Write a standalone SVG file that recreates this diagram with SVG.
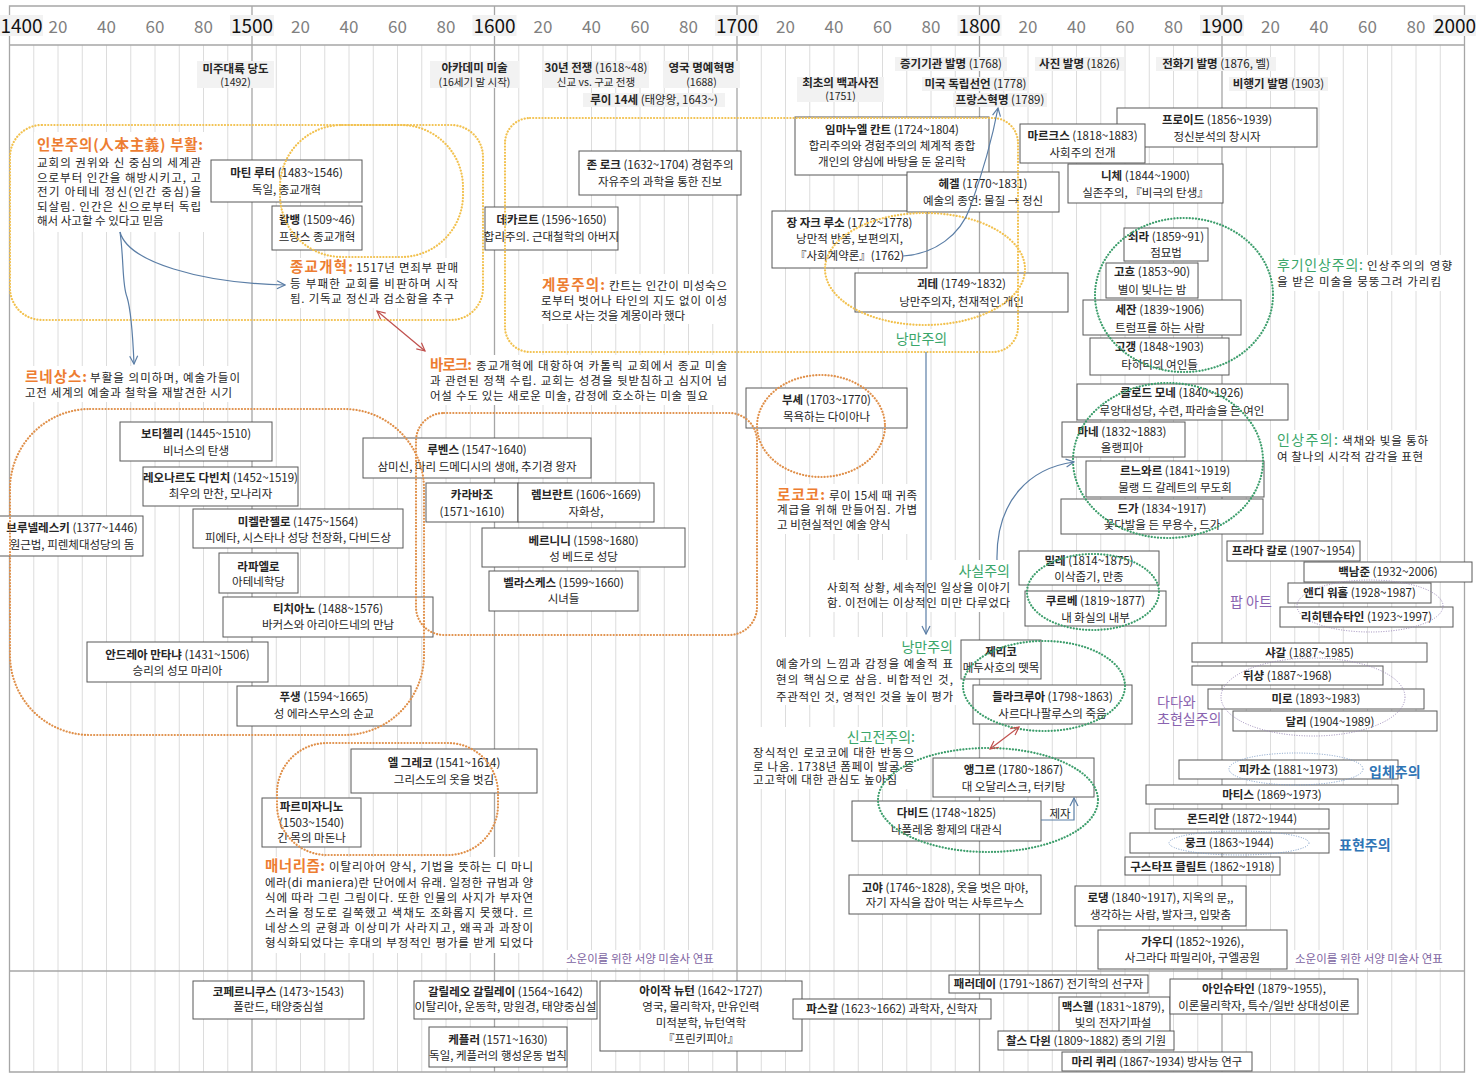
<svg xmlns="http://www.w3.org/2000/svg" width="1476" height="1080" viewBox="0 0 1476 1080">
<style>
text{font-family:'Noto Sans CJK KR','Noto Sans',sans-serif;fill:#262626;font-size:11.5px}
.b{font-weight:bold}
.s{font-size:10.5px}
.box rect{fill:#fff;stroke:#595959;stroke-width:1}
.box text{text-anchor:middle}
.ev text{text-anchor:middle}
.hbg{fill:#f2f2f2}
.wbg{fill:#fff}
.grid{stroke:#dcdcdc;stroke-width:1;fill:none}
.cent{stroke:#a6a6a6;stroke-width:1.3;fill:none}
.frame{stroke:#a6a6a6;stroke-width:1.3;fill:none}
.cy{font-size:19px;fill:#111;text-anchor:middle}
.dc{font-size:17px;fill:#808080;text-anchor:middle}
.yel{fill:none;stroke:#f2c14e;stroke-width:2.2;stroke-dasharray:0.1 3;stroke-linecap:round}
.org{fill:none;stroke:#e0904a;stroke-width:2.2;stroke-dasharray:0.1 3;stroke-linecap:round}
.grn{fill:none;stroke:#3d9e6c;stroke-width:2.2;stroke-dasharray:0.1 3;stroke-linecap:round}
.pur{fill:none;stroke:#9a88b8;stroke-width:1;stroke-dasharray:1 1.5}
.blu{fill:none;stroke:#7b9cc8;stroke-width:1;stroke-dasharray:1 1.5}
.or{fill:#ed7d31;font-size:14.5px;font-weight:bold}
.gr{fill:#3aa66a;font-size:14px}
.pp{fill:#8a63b0;font-size:14px}
.bl{fill:#2e75b6;font-size:14px;font-weight:bold}
.sig{fill:#8064a2;font-size:11.5px}
.cb{fill:none;stroke:#5b7ea6;stroke-width:1.2}
.cr{fill:none;stroke:#c0504d;stroke-width:1.2}
</style>
<defs>
<marker id="ab" viewBox="0 0 10 10" refX="9" refY="5" markerWidth="10" markerHeight="10" markerUnits="userSpaceOnUse" orient="auto-start-reverse"><path d="M1,1 L9,5 L1,9" fill="none" stroke="#5b7ea6" stroke-width="1.2"/></marker>
<marker id="ar" viewBox="0 0 10 10" refX="9" refY="5" markerWidth="10" markerHeight="10" markerUnits="userSpaceOnUse" orient="auto-start-reverse"><path d="M1,1 L9,5 L1,9" fill="none" stroke="#c0504d" stroke-width="1.2"/></marker>
</defs>
<rect x="0" y="0" width="1476" height="1080" fill="#fff"/>

<g id="grid">
<path class="grid" d="M33.75,45V1072M58,45V1072M82.25,45V1072M106.5,45V1072M130.75,45V1072M155,45V1072M179.25,45V1072M203.5,45V1072M227.75,45V1072M276.25,45V1072M300.5,45V1072M324.75,45V1072M349,45V1072M373.25,45V1072M397.5,45V1072M421.75,45V1072M446,45V1072M470.25,45V1072M518.75,45V1072M543,45V1072M567.25,45V1072M591.5,45V1072M615.75,45V1072M640,45V1072M664.25,45V1072M688.5,45V1072M712.75,45V1072M761.25,45V1072M785.5,45V1072M809.75,45V1072M834,45V1072M858.25,45V1072M882.5,45V1072M906.75,45V1072M931,45V1072M955.25,45V1072M1003.75,45V1072M1028,45V1072M1052.25,45V1072M1076.5,45V1072M1100.75,45V1072M1125,45V1072M1149.25,45V1072M1173.5,45V1072M1197.75,45V1072M1246.25,45V1072M1270.5,45V1072M1294.75,45V1072M1319,45V1072M1343.25,45V1072M1367.5,45V1072M1391.75,45V1072M1416,45V1072M1440.25,45V1072"/>
<path class="cent" d="M252,6V1072M494.5,6V1072M737,6V1072M979.5,6V1072M1222,6V1072"/>
<path class="frame" d="M9.5,6H1464.5V1072H9.5ZM9.5,45H1464.5M9.5,971H1464.5"/>
</g>

<g id="axis">
<rect class="hbg" x="0" y="15" width="43" height="21"/><text class="cy" x="21.5" y="33">1400</text>
<rect class="hbg" x="230" y="15" width="44" height="21"/><text class="cy" x="252" y="33">1500</text>
<rect class="hbg" x="472.5" y="15" width="44" height="21"/><text class="cy" x="494.5" y="33">1600</text>
<rect class="hbg" x="715" y="15" width="44" height="21"/><text class="cy" x="737" y="33">1700</text>
<rect class="hbg" x="957.5" y="15" width="44" height="21"/><text class="cy" x="979.5" y="33">1800</text>
<rect class="hbg" x="1200" y="15" width="44" height="21"/><text class="cy" x="1222" y="33">1900</text>
<rect class="hbg" x="1433" y="15" width="43" height="21"/><text class="cy" x="1455" y="33">2000</text>
<text class="dc" x="58" y="33">20</text><text class="dc" x="106.5" y="33">40</text><text class="dc" x="155" y="33">60</text><text class="dc" x="203.5" y="33">80</text>
<text class="dc" x="300.5" y="33">20</text><text class="dc" x="349" y="33">40</text><text class="dc" x="397.5" y="33">60</text><text class="dc" x="446" y="33">80</text>
<text class="dc" x="543" y="33">20</text><text class="dc" x="591.5" y="33">40</text><text class="dc" x="640" y="33">60</text><text class="dc" x="688.5" y="33">80</text>
<text class="dc" x="785.5" y="33">20</text><text class="dc" x="834" y="33">40</text><text class="dc" x="882.5" y="33">60</text><text class="dc" x="931" y="33">80</text>
<text class="dc" x="1028" y="33">20</text><text class="dc" x="1076.5" y="33">40</text><text class="dc" x="1125" y="33">60</text><text class="dc" x="1173.5" y="33">80</text>
<text class="dc" x="1270.5" y="33">20</text><text class="dc" x="1319" y="33">40</text><text class="dc" x="1367.5" y="33">60</text><text class="dc" x="1416" y="33">80</text>
</g>

<g id="events" class="ev">
<g id="ev-america"><rect class="hbg" x="197" y="61" width="77" height="27"/><text x="235.5" y="72.5" class="b">미주대륙 당도</text><text x="235.5" y="86" class="s">(1492)</text></g>
<g id="ev-academy"><rect class="hbg" x="430" y="61" width="89" height="27"/><text x="474.5" y="72" class="b">아카데미 미술</text><text x="474.5" y="86" class="s">(16세기 말 시작)</text></g>
<g id="ev-30war"><rect class="hbg" x="543" y="61" width="106" height="27"/><text x="596" y="72"><tspan class="b">30년 전쟁</tspan> (1618~48)</text><text x="596" y="86" class="s">신교 vs. 구교 전쟁</text></g>
<g id="ev-glorious"><rect class="hbg" x="663" y="61" width="77" height="27"/><text x="701.5" y="72" class="b">영국 명예혁명</text><text x="701.5" y="86" class="s">(1688)</text></g>
<g id="ev-louis"><rect class="hbg" x="583" y="93" width="142" height="14"/><text x="654" y="104"><tspan class="b">루이 14세</tspan> (태양왕, 1643~)</text></g>
<g id="ev-encyc"><rect class="hbg" x="797" y="77" width="87" height="25"/><text x="840.5" y="87" class="b">최초의 백과사전</text><text x="840.5" y="100" class="s">(1751)</text></g>
<g id="ev-steam"><rect class="hbg" x="895" y="57" width="112" height="14"/><text x="951" y="68"><tspan class="b">증기기관 발명</tspan> (1768)</text></g>
<g id="ev-usa"><rect class="hbg" x="922" y="77" width="107" height="14"/><text x="975.5" y="88"><tspan class="b">미국 독립선언</tspan> (1778)</text></g>
<g id="ev-france"><rect class="hbg" x="953" y="93" width="94" height="14"/><text x="1000" y="104"><tspan class="b">프랑스혁명</tspan> (1789)</text></g>
<g id="ev-photo"><rect class="hbg" x="1035" y="57" width="89" height="14"/><text x="1079.5" y="68"><tspan class="b">사진 발명</tspan> (1826)</text></g>
<g id="ev-phone"><rect class="hbg" x="1156" y="57" width="120" height="14"/><text x="1216" y="68"><tspan class="b">전화기 발명</tspan> (1876, 벨)</text></g>
<g id="ev-plane"><rect class="hbg" x="1229" y="77" width="99" height="14"/><text x="1278.5" y="88"><tspan class="b">비행기 발명</tspan> (1903)</text></g>
</g>

<g id="notes">
<rect class="wbg" x="34" y="132" width="171" height="100"/>
<rect class="wbg" x="287" y="258" width="174" height="50"/>
<rect class="wbg" x="22" y="366" width="224" height="36"/>
<rect class="wbg" x="427" y="355" width="303" height="50"/>
<rect class="wbg" x="538" y="274" width="192" height="50"/>
<rect class="wbg" x="774" y="484" width="146" height="50"/>
<rect class="wbg" x="823" y="560" width="190" height="52"/>
<rect class="wbg" x="772" y="637" width="184" height="68"/>
<rect class="wbg" x="750" y="727" width="167" height="62"/>
<rect class="wbg" x="262" y="857" width="274" height="96"/>
<rect class="wbg" x="1274" y="255" width="182" height="36"/>
<rect class="wbg" x="1274" y="430" width="158" height="36"/>
<rect class="wbg" x="892" y="329" width="60" height="19"/>
<rect class="wbg" x="562" y="950" width="168" height="18"/>
<rect class="wbg" x="1291" y="950" width="166" height="18"/>

<g id="note-humanism"><text class="or" x="37" y="150" textLength="166" lengthAdjust="spacing">인본주의(人本主義) 부활:</text>
<text x="37" y="167" textLength="164" lengthAdjust="spacing">교회의 권위와 신 중심의 세계관</text>
<text x="37" y="182" textLength="164" lengthAdjust="spacing">으로부터 인간을 해방시키고, 고</text>
<text x="37" y="196" textLength="164" lengthAdjust="spacing">전기 아테네 정신(인간 중심)을</text>
<text x="37" y="211" textLength="164" lengthAdjust="spacing">되살림. 인간은 신으로부터 독립</text>
<text x="37" y="225">해서 사고할 수 있다고 믿음</text></g>

<g id="note-reform"><text class="or" x="290" y="272" textLength="63" lengthAdjust="spacing">종교개혁:</text>
<text x="356" y="272" textLength="102" lengthAdjust="spacing">1517년 면죄부 판매</text>
<text x="290" y="288" textLength="168" lengthAdjust="spacing">등 부패한 교회를 비판하며 시작</text>
<text x="290" y="303" textLength="164" lengthAdjust="spacing">됨. 기독교 정신과 검소함을 추구</text></g>

<g id="note-renaissance"><text class="or" x="25" y="382" textLength="62" lengthAdjust="spacing">르네상스:</text>
<text x="90" y="382" textLength="150" lengthAdjust="spacing">부활을 의미하며, 예술가들이</text>
<text x="25" y="397" textLength="207" lengthAdjust="spacing">고전 세계의 예술과 철학을 재발견한 시기</text></g>

<g id="note-baroque"><text class="or" x="430" y="370" textLength="42" lengthAdjust="spacing">바로크:</text>
<text x="476" y="370" textLength="251" lengthAdjust="spacing">종교개혁에 대항하여 카톨릭 교회에서 종교 미술</text>
<text x="430" y="385" textLength="297" lengthAdjust="spacing">과 관련된 정책 수립. 교회는 성경을 뒷받침하고 심지어 넘</text>
<text x="430" y="400" textLength="278" lengthAdjust="spacing">어설 수도 있는 새로운 미술, 감정에 호소하는 미술 필요</text></g>

<g id="note-enlight"><text class="or" x="542" y="290" textLength="63" lengthAdjust="spacing">계몽주의:</text>
<text x="609" y="290" textLength="118" lengthAdjust="spacing">칸트는 인간이 미성숙으</text>
<text x="541" y="305" textLength="186" lengthAdjust="spacing">로부터 벗어나 타인의 지도 없이 이성</text>
<text x="541" y="320" textLength="144" lengthAdjust="spacing">적으로 사는 것을 계몽이라 했다</text></g>

<text class="gr" x="921.5" y="344" text-anchor="middle">낭만주의</text>

<g id="note-rococo"><text class="or" x="777" y="500" textLength="48" lengthAdjust="spacing">로코코:</text>
<text x="829" y="500" textLength="88" lengthAdjust="spacing">루이 15세 때 귀족</text>
<text x="777" y="514" textLength="140" lengthAdjust="spacing">계급을 위해 만들어짐. 가볍</text>
<text x="777" y="529">고 비현실적인 예술 양식</text></g>

<g id="note-realism"><text class="gr" x="1010" y="576" text-anchor="end">사실주의</text>
<text x="827" y="592" textLength="183" lengthAdjust="spacing">사회적 상황, 세속적인 일상을 이야기</text>
<text x="827" y="607" textLength="183" lengthAdjust="spacing">함. 이전에는 이상적인 미만 다루었다</text></g>

<g id="note-romantic"><text class="gr" x="953" y="652" text-anchor="end">낭만주의</text>
<text x="776" y="668" textLength="177" lengthAdjust="spacing">예술가의 느낌과 감정을 예술적 표</text>
<text x="776" y="684" textLength="177" lengthAdjust="spacing">현의 핵심으로 삼음. 비합적인 것,</text>
<text x="776" y="701" textLength="177" lengthAdjust="spacing">주관적인 것, 영적인 것을 높이 평가</text></g>

<g id="note-neoclass"><text class="gr" x="915" y="742" text-anchor="end">신고전주의:</text>
<text x="753" y="757" textLength="161" lengthAdjust="spacing">장식적인 로코코에 대한 반동으</text>
<text x="753" y="771" textLength="161" lengthAdjust="spacing">로 나옴. 1738년 폼페이 발굴 등</text>
<text x="753" y="784" textLength="144" lengthAdjust="spacing">고고학에 대한 관심도 높아짐</text></g>

<g id="note-mannerism"><text class="or" x="265" y="871" textLength="60" lengthAdjust="spacing">매너리즘:</text>
<text x="329" y="871" textLength="204" lengthAdjust="spacing">이탈리아어 양식, 기법을 뜻하는 디 마니</text>
<text x="265" y="887" textLength="268" lengthAdjust="spacing">에라(di maniera)란 단어에서 유래. 일정한 규범과 양</text>
<text x="265" y="902" textLength="268" lengthAdjust="spacing">식에 따라 그린 그림이다. 또한 인물의 사지가 부자연</text>
<text x="265" y="917" textLength="268" lengthAdjust="spacing">스러울 정도로 길쭉했고 색채도 조화롭지 못했다. 르</text>
<text x="265" y="932" textLength="268" lengthAdjust="spacing">네상스의 균형과 이상미가 사라지고, 왜곡과 과장이</text>
<text x="265" y="947" textLength="268" lengthAdjust="spacing">형식화되었다는 후대의 부정적인 평가를 받게 되었다</text></g>

<g id="note-postimp"><text class="gr" x="1277" y="270" textLength="86" lengthAdjust="spacing">후기인상주의:</text>
<text x="1367" y="270" textLength="85" lengthAdjust="spacing">인상주의의 영향</text>
<text x="1277" y="286" textLength="164" lengthAdjust="spacing">을 받은 미술을 뭉뚱그려 가리킴</text></g>

<g id="note-imp"><text class="gr" x="1277" y="445" textLength="61" lengthAdjust="spacing">인상주의:</text>
<text x="1342" y="445" textLength="86" lengthAdjust="spacing">색채와 빛을 통하</text>
<text x="1277" y="461" textLength="146" lengthAdjust="spacing">여 찰나의 시각적 감각을 표현</text></g>

<text class="sig" x="566" y="963">소운이를 위한 서양 미술사 연표</text>
<text class="sig" x="1295" y="963">소운이를 위한 서양 미술사 연표</text>
</g>

<g id="nodes">
<g id="n-luther" class="box"><rect x="211" y="160" width="151" height="42"/><text x="286.5" y="177"><tspan class="b">마틴 루터</tspan> (1483~1546)</text><text x="286.5" y="194">독일, 종교개혁</text></g>
<g id="n-calvin" class="box"><rect x="272" y="206" width="90" height="44"/><text x="317" y="224"><tspan class="b">칼뱅</tspan> (1509~46)</text><text x="317" y="241">프랑스 종교개혁</text></g>
<g id="n-descartes" class="box"><rect x="485" y="207" width="133" height="43"/><text x="551.5" y="224"><tspan class="b">데카르트</tspan> (1596~1650)</text><text x="551.5" y="241">합리주의. 근대철학의 아버지</text></g>
<g id="n-locke" class="box"><rect x="579" y="151" width="162" height="44"/><text x="660" y="169"><tspan class="b">존 로크</tspan> (1632~1704) 경험주의</text><text x="660" y="186">자유주의 과학을 통한 진보</text></g>
<g id="n-kant" class="box"><rect x="795" y="117" width="194" height="58"/><text x="892" y="134"><tspan class="b">임마누엘 칸트</tspan> (1724~1804)</text><text x="892" y="150">합리주의와  경험주의의 체계적 종합</text><text x="892" y="166">개인의 양심에 바탕을 둔 윤리학</text></g>
<g id="n-rousseau" class="box"><rect x="772" y="211" width="155" height="57"/><text x="849.5" y="227"><tspan class="b">장 자크 루소</tspan> (1712~1778)</text><text x="849.5" y="243">낭만적 반동, 보편의지,</text><text x="849.5" y="260">『사회계약론』(1762)</text></g>
<g id="n-hegel" class="box"><rect x="907" y="172" width="152" height="40"/><text x="983" y="188"><tspan class="b">헤겔</tspan> (1770~1831)</text><text x="983" y="205">예술의 종언: 물질 → 정신</text></g>
<g id="n-goethe" class="box"><rect x="855" y="273" width="213" height="39"/><text x="961.5" y="288"><tspan class="b">괴테</tspan> (1749~1832)</text><text x="961.5" y="306">낭만주의자, 천재적인 개인</text></g>
<g id="n-freud" class="box"><rect x="1117" y="108" width="200" height="39"/><text x="1217" y="124"><tspan class="b">프로이드</tspan> (1856~1939)</text><text x="1217" y="141">정신분석의 창시자</text></g>
<g id="n-marx" class="box"><rect x="1020" y="124" width="125" height="39"/><text x="1082.5" y="140"><tspan class="b">마르크스</tspan> (1818~1883)</text><text x="1082.5" y="157">사회주의 전개</text></g>
<g id="n-nietzsche" class="box"><rect x="1068" y="164" width="155" height="39"/><text x="1145.5" y="180"><tspan class="b">니체</tspan> (1844~1900)</text><text x="1145.5" y="197">실존주의, 『비극의 탄생』</text></g>
<g id="n-seurat" class="box"><rect x="1124" y="228" width="84" height="33"/><text x="1166" y="241"><tspan class="b">쇠라</tspan> (1859~91)</text><text x="1166" y="257">점묘법</text></g>
<g id="n-gogh" class="box"><rect x="1106" y="263" width="92" height="35"/><text x="1152" y="276"><tspan class="b">고흐</tspan> (1853~90)</text><text x="1152" y="294">별이 빛나는 밤</text></g>
<g id="n-cezanne" class="box"><rect x="1083" y="300" width="158" height="35"/><text x="1160" y="314"><tspan class="b">세잔</tspan> (1839~1906)</text><text x="1160" y="332">트럼프를 하는 사람</text></g>
<g id="n-gauguin" class="box"><rect x="1090" y="338" width="139" height="37"/><text x="1159.5" y="351"><tspan class="b">고갱</tspan> (1848~1903)</text><text x="1159.5" y="369">타히티의 여인들</text></g>
<g id="n-monet" class="box"><rect x="1077" y="384" width="211" height="36"/><text x="1182" y="397"><tspan class="b">클로드 모네</tspan> (1840~1926)</text><text x="1182" y="415">루앙대성당, 수련, 파라솔을 든 여인</text></g>
<g id="n-manet" class="box"><rect x="1062" y="422" width="123" height="35"/><text x="1122" y="436"><tspan class="b">마네</tspan> (1832~1883)</text><text x="1122" y="452">올랭피아</text></g>
<g id="n-renoir" class="box"><rect x="1086" y="461" width="178" height="36"/><text x="1175" y="475"><tspan class="b">르느와르</tspan> (1841~1919)</text><text x="1175" y="492">물랭 드 갈레트의 무도회</text></g>
<g id="n-degas" class="box"><rect x="1061" y="499" width="202" height="35"/><text x="1162" y="513"><tspan class="b">드가</tspan> (1834~1917)</text><text x="1162" y="529">꽃다발을 든 무용수, 드가</text></g>
<g id="n-millet" class="box"><rect x="1019" y="551" width="140" height="34"/><text x="1089" y="565"><tspan class="b">밀레</tspan> (1814~1875)</text><text x="1089" y="581">이삭줍기, 만종</text></g>
<g id="n-courbet" class="box"><rect x="1025" y="591" width="141" height="35"/><text x="1095.5" y="605"><tspan class="b">쿠르베</tspan> (1819~1877)</text><text x="1095.5" y="622">내 화실의 내부</text></g>
<g id="n-boucher" class="box"><rect x="746" y="388" width="161" height="40"/><text x="826.5" y="404"><tspan class="b">부셰</tspan> (1703~1770)</text><text x="826.5" y="421">목욕하는 다이아나</text></g>
<g id="n-gericault" class="box"><rect x="961" y="640" width="80" height="39"/><text x="1001" y="656" class="b">제리코</text><text x="1001" y="672">메두사호의 뗏목</text></g>
<g id="n-delacroix" class="box"><rect x="973" y="685" width="159" height="39"/><text x="1052.5" y="701"><tspan class="b">들라크루아</tspan> (1798~1863)</text><text x="1052.5" y="718">사르다나팔루스의 죽음</text></g>
<g id="n-ingres" class="box"><rect x="933" y="758" width="161" height="39"/><text x="1013.5" y="774"><tspan class="b">앵그르</tspan> (1780~1867)</text><text x="1013.5" y="791">대 오달리스크, 터키탕</text></g>
<g id="n-david" class="box"><rect x="852" y="801" width="189" height="40"/><text x="946.5" y="817"><tspan class="b">다비드</tspan> (1748~1825)</text><text x="946.5" y="834">나폴레옹 황제의 대관식</text></g>
<g id="n-goya" class="box"><rect x="849" y="875" width="192" height="39"/><text x="945" y="892"><tspan class="b">고야</tspan> (1746~1828), 옷을 벗은 마야,</text><text x="945" y="907">자기 자식을 잡아 먹는 사투르누스</text></g>
<g id="n-rodin" class="box"><rect x="1075" y="886" width="171" height="40"/><text x="1160.5" y="902"><tspan class="b">로댕</tspan> (1840~1917), 지옥의 문,,</text><text x="1160.5" y="919">생각하는 사람, 발자크, 입맞춤</text></g>
<g id="n-gaudi" class="box"><rect x="1098" y="930" width="189" height="39"/><text x="1192.5" y="946"><tspan class="b">가우디</tspan> (1852~1926),</text><text x="1192.5" y="962">사그라다 파밀리아, 구엘공원</text></g>
<g id="n-klimt" class="box"><rect x="1125" y="857" width="155" height="18"/><text x="1202.5" y="871"><tspan class="b">구스타프 클림트</tspan> (1862~1918)</text></g>
<g id="n-munch" class="box"><rect x="1130" y="833" width="199" height="20"/><text x="1229.5" y="847"><tspan class="b">뭉크</tspan> (1863~1944)</text></g>
<g id="n-mondrian" class="box"><rect x="1155" y="809" width="174" height="20"/><text x="1242" y="823"><tspan class="b">몬드리안</tspan> (1872~1944)</text></g>
<g id="n-matisse" class="box"><rect x="1146" y="785" width="252" height="19"/><text x="1272" y="799"><tspan class="b">마티스</tspan> (1869~1973)</text></g>
<g id="n-picasso" class="box"><rect x="1179" y="760" width="219" height="19"/><text x="1288.5" y="774"><tspan class="b">피카소</tspan> (1881~1973)</text></g>
<g id="n-chagall" class="box"><rect x="1192" y="643" width="235" height="19"/><text x="1309.5" y="657"><tspan class="b">샤갈</tspan> (1887~1985)</text></g>
<g id="n-duchamp" class="box"><rect x="1192" y="666" width="191" height="19"/><text x="1287.5" y="680"><tspan class="b">뒤샹</tspan> (1887~1968)</text></g>
<g id="n-miro" class="box"><rect x="1208" y="689" width="216" height="20"/><text x="1316" y="703"><tspan class="b">미로</tspan> (1893~1983)</text></g>
<g id="n-dali" class="box"><rect x="1233" y="711" width="204" height="20"/><text x="1330" y="726"><tspan class="b">달리</tspan> (1904~1989)</text></g>
<g id="n-kahlo" class="box"><rect x="1227" y="541" width="133" height="20"/><text x="1293.5" y="555"><tspan class="b">프라다 칼로</tspan> (1907~1954)</text></g>
<g id="n-paik" class="box"><rect x="1304" y="562" width="168" height="20"/><text x="1388" y="576"><tspan class="b">백남준</tspan> (1932~2006)</text></g>
<g id="n-warhol" class="box"><rect x="1288" y="583" width="143" height="20"/><text x="1359.5" y="597"><tspan class="b">앤디 워홀</tspan> (1928~1987)</text></g>
<g id="n-lichtenstein" class="box"><rect x="1280" y="607" width="173" height="20"/><text x="1366.5" y="621"><tspan class="b">리히텐슈타인</tspan> (1923~1997)</text></g>

<g id="n-botticelli" class="box"><rect x="120" y="422" width="152" height="39"/><text x="196" y="438"><tspan class="b">보티첼리</tspan> (1445~1510)</text><text x="196" y="455">비너스의 탄생</text></g>
<g id="n-leonardo" class="box"><rect x="143" y="467" width="155" height="39"/><text x="220.5" y="482"><tspan class="b">레오나르도 다빈치</tspan> (1452~1519)</text><text x="220.5" y="498">최우의 만찬, 모나리자</text></g>
<g id="n-michelangelo" class="box"><rect x="193" y="509" width="210" height="39"/><text x="298" y="526"><tspan class="b">미켈란젤로</tspan> (1475~1564)</text><text x="298" y="542">피에타, 시스타나 성당 천장화, 다비드상</text></g>
<g id="n-brunelleschi" class="box"><rect x="-1" y="516" width="144" height="40"/><text x="72" y="532"><tspan class="b">브루넬레스키</tspan> (1377~1446)</text><text x="72" y="549">원근법, 피렌체대성당의 돔</text></g>
<g id="n-raphael" class="box"><rect x="219" y="553" width="79" height="40"/><text x="258.5" y="571" class="b">라파엘로</text><text x="258.5" y="586">아테네학당</text></g>
<g id="n-titian" class="box"><rect x="223" y="597" width="210" height="40"/><text x="328" y="613"><tspan class="b">티치아노</tspan> (1488~1576)</text><text x="328" y="629">바커스와 아리아드네의 만남</text></g>
<g id="n-mantegna" class="box"><rect x="87" y="642" width="181" height="40"/><text x="177.5" y="659"><tspan class="b">안드레아 만타냐</tspan> (1431~1506)</text><text x="177.5" y="675">승리의 성모 마리아</text></g>
<g id="n-poussin" class="box"><rect x="237" y="686" width="174" height="40"/><text x="324" y="701"><tspan class="b">푸생</tspan> (1594~1665)</text><text x="324" y="718">성 에라스무스의 순교</text></g>
<g id="n-rubens" class="box"><rect x="363" y="438" width="228" height="40"/><text x="477" y="454"><tspan class="b">루벤스</tspan> (1547~1640)</text><text x="477" y="471">삼미신, 마리 드메디시의 생애, 추기경 왕자</text></g>
<g id="n-caravaggio" class="box"><rect x="426" y="483" width="92" height="39"/><text x="472" y="499" class="b">카라바조</text><text x="472" y="516">(1571~1610)</text></g>
<g id="n-rembrandt" class="box"><rect x="518" y="483" width="136" height="39"/><text x="586" y="499"><tspan class="b">렘브란트</tspan> (1606~1669)</text><text x="586" y="516">자화상,</text></g>
<g id="n-bernini" class="box"><rect x="482" y="528" width="203" height="39"/><text x="583.5" y="545"><tspan class="b">베르니니</tspan> (1598~1680)</text><text x="583.5" y="561">성 베드로 성당</text></g>
<g id="n-velazquez" class="box"><rect x="489" y="571" width="149" height="40"/><text x="563.5" y="587"><tspan class="b">벨라스케스</tspan> (1599~1660)</text><text x="563.5" y="603">시녀들</text></g>
<g id="n-elgreco" class="box"><rect x="351" y="749" width="186" height="44"/><text x="444" y="767"><tspan class="b">엘 그레코</tspan> (1541~1614)</text><text x="444" y="784">그리스도의 옷을 벗김</text></g>
<g id="n-parmigianino" class="box"><rect x="262" y="798" width="99" height="49"/><text x="311.5" y="811" class="b">파르미자니노</text><text x="311.5" y="827">(1503~1540)</text><text x="311.5" y="842">긴 목의 마돈나</text></g>

<g id="n-copernicus" class="box"><rect x="193" y="981" width="171" height="38"/><text x="278.5" y="996"><tspan class="b">코페르니쿠스</tspan> (1473~1543)</text><text x="278.5" y="1011">폴란드, 태양중심설</text></g>
<g id="n-galileo" class="box"><rect x="414" y="981" width="183" height="38"/><text x="505.5" y="996"><tspan class="b">갈릴레오 갈릴레이</tspan> (1564~1642)</text><text x="505.5" y="1011" textLength="182" lengthAdjust="spacingAndGlyphs">이탈리아, 운동학, 망원경, 태양중심설</text></g>
<g id="n-kepler" class="box"><rect x="429" y="1027" width="138" height="40"/><text x="498" y="1044"><tspan class="b">케플러</tspan> (1571~1630)</text><text x="498" y="1060">독일, 케플러의 행성운동 법칙</text></g>
<g id="n-newton" class="box"><rect x="600" y="981" width="202" height="70"/><text x="701" y="995"><tspan class="b">아이작 뉴턴</tspan> (1642~1727)</text><text x="701" y="1011">영국, 물리학자, 만유인력</text><text x="701" y="1027">미적분학, 뉴턴역학</text><text x="701" y="1043">『프린키피아』</text></g>
<g id="n-pascal" class="box"><rect x="793" y="999" width="198" height="20"/><text x="892" y="1013"><tspan class="b">파스칼</tspan> (1623~1662) 과학자, 신학자</text></g>
<g id="n-faraday" class="box"><rect x="949" y="975" width="199" height="18"/><text x="1048.5" y="988"><tspan class="b">패러데이</tspan> (1791~1867) 전기학의 선구자</text></g>
<g id="n-maxwell" class="box"><rect x="1059" y="997" width="111" height="35"/><text x="1113" y="1011"><tspan class="b">맥스웰</tspan> (1831~1879),</text><text x="1113" y="1027">빛의 전자기파설</text></g>
<g id="n-darwin" class="box"><rect x="998" y="1031" width="176" height="19"/><text x="1086" y="1045"><tspan class="b">찰스 다윈</tspan> (1809~1882) 종의 기원</text></g>
<g id="n-curie" class="box"><rect x="1062" y="1052" width="190" height="19"/><text x="1157" y="1066"><tspan class="b">마리 퀴리</tspan> (1867~1934) 방사능 연구</text></g>
<g id="n-einstein" class="box"><rect x="1170" y="979" width="188" height="35"/><text x="1264" y="993"><tspan class="b">아인슈타인</tspan> (1879~1955),</text><text x="1264" y="1010">이론물리학자, 특수/일반 상대성이론</text></g>
</g>

<g id="labels">
<text class="pp" x="1230" y="607">팝 아트</text>
<text class="pp" x="1157" y="707">다다와</text>
<text class="pp" x="1157" y="724">초현실주의</text>
<text class="bl" x="1369" y="777">입체주의</text>
<text class="bl" x="1339" y="850">표현주의</text>
</g>

<g id="outlines">
<rect class="yel" x="10" y="125" width="473" height="195" rx="32"/>
<rect class="yel" x="280" y="125" width="183" height="132" rx="62"/>
<rect class="yel" x="505" y="118" width="513" height="234" rx="25"/>
<ellipse class="yel" cx="925" cy="269" rx="100" ry="56"/>
<rect class="org" x="10" y="409" width="414" height="326" rx="80"/>
<rect class="org" x="416" y="413" width="341" height="222" rx="28"/>
<ellipse class="org" cx="821" cy="426" rx="64" ry="51"/>
<rect class="org" x="277" y="743" width="221" height="112" rx="50"/>
<ellipse class="grn" cx="1184" cy="295" rx="89" ry="77"/>
<ellipse class="grn" cx="1168" cy="460.5" rx="95" ry="77.5"/>
<ellipse class="grn" cx="1093" cy="592" rx="66" ry="38"/>
<ellipse class="grn" cx="1044" cy="686" rx="81" ry="45"/>
<ellipse class="grn" cx="988" cy="800" rx="110" ry="52"/>
<ellipse class="pur" cx="1370" cy="606" rx="73" ry="26"/>
<ellipse class="pur" cx="1313" cy="697" rx="92" ry="39"/>
<ellipse class="blu" cx="1296" cy="769" rx="67" ry="16"/>
<ellipse class="blu" cx="1239" cy="843" rx="70" ry="12"/>
</g>

<g id="connectors">
<path class="cb" d="M120,232 C128,262 200,283 285,285" marker-end="url(#ab)"/>
<path class="cb" d="M120,232 C124,260 122,285 127,297 C131,310 133,340 134,364" marker-end="url(#ab)"/>
<path class="cr" d="M377,311 L425,351" marker-start="url(#ar)" marker-end="url(#ar)"/>
<path class="cb" d="M903,256 C935,254 960,235 970,208 C980,180 992,140 998,108" marker-end="url(#ab)"/>
<path class="cb" d="M926,352 L926,634" marker-end="url(#ab)"/>
<path class="cb" d="M997,560 C996,500 1030,468 1074,462" marker-end="url(#ab)"/>
<path class="cr" d="M990,749 L1019,727" marker-start="url(#ar)" marker-end="url(#ar)"/>
<path class="cb" d="M1041,820 L1074,820 L1074,798" marker-end="url(#ab)"/>
<text x="1060" y="818" text-anchor="middle">제자</text>
</g>
</svg>
